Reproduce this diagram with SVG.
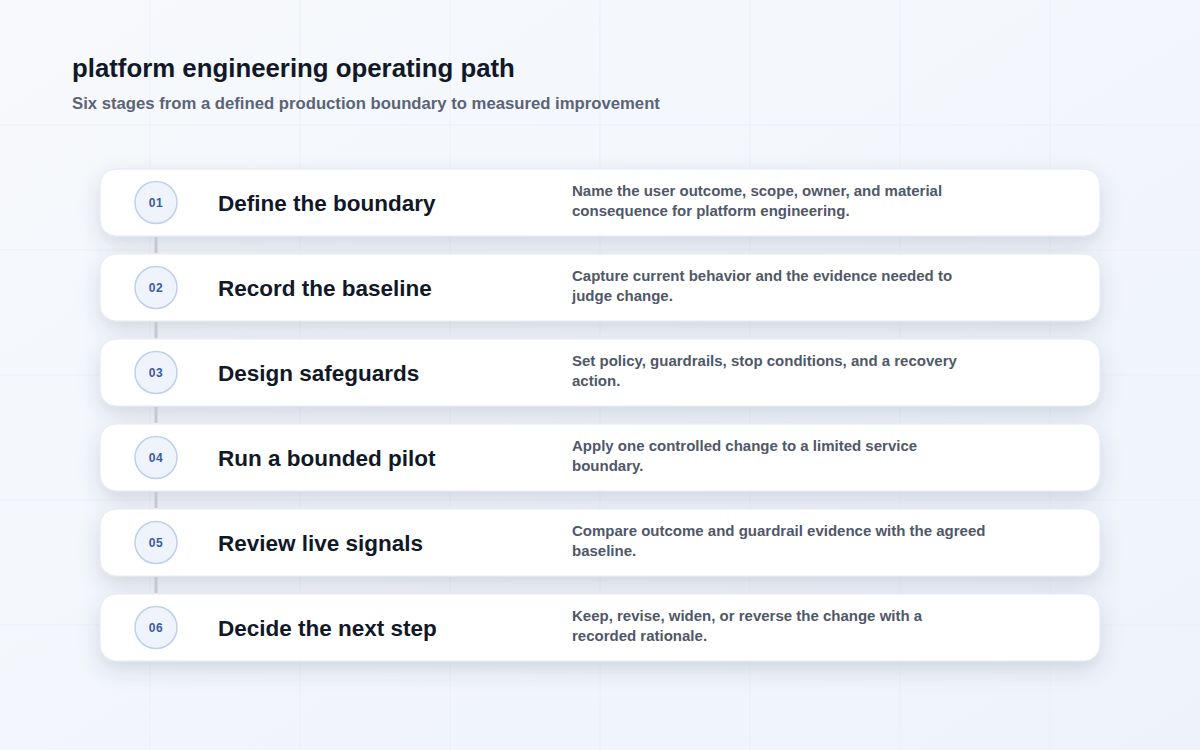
<svg xmlns="http://www.w3.org/2000/svg" width="1200" height="750" viewBox="0 0 1200 750">
<defs>
<linearGradient id="bg" x1="0" y1="0" x2="1" y2="1">
<stop offset="0" stop-color="#f7f9fc"/>
<stop offset="1" stop-color="#eef3fb"/>
</linearGradient>
<filter id="sh" x="-10%" y="-40%" width="120%" height="200%">
<feGaussianBlur in="SourceAlpha" stdDeviation="10"/>
<feOffset dy="8" result="b"/>
<feFlood flood-color="#3b4a6b" flood-opacity="0.18"/>
<feComposite in2="b" operator="in"/>
<feMerge><feMergeNode/><feMergeNode in="SourceGraphic"/></feMerge>
</filter>
<style>
.grid{stroke:#ebeff6;stroke-width:1;fill:none}
.card{fill:#ffffff;stroke:#e3e8f0;stroke-width:1}
.badge{fill:#eef3fc;stroke:#bfd0ec;stroke-width:1.5}
.num{font-family:"Liberation Sans",Arial,sans-serif;font-size:12px;font-weight:700;fill:#3a5aa6;text-anchor:middle;letter-spacing:0.5px}
.ttl{font-family:"Liberation Sans",Arial,sans-serif;font-size:22.5px;font-weight:700;fill:#111827}
.desc{font-family:"Liberation Sans",Arial,sans-serif;font-size:15px;font-weight:700;fill:#4f5868}
.link{stroke:#c3c8d1;stroke-width:3}
</style>
</defs>
<rect width="1200" height="750" fill="url(#bg)"/>
<g class="grid">
<path d="M150 0V750M300 0V750M450 0V750M600 0V750M750 0V750M900 0V750M1050 0V750M0 125H1200M0 250H1200M0 375H1200M0 500H1200M0 625H1200"/>
</g>
<text x="72" y="77" font-family="Liberation Sans, Arial, sans-serif" font-size="25.8" font-weight="700" fill="#111827">platform engineering operating path</text>
<text x="72" y="109" font-family="Liberation Sans, Arial, sans-serif" font-size="16.7" font-weight="700" fill="#5b6477">Six stages from a defined production boundary to measured improvement</text>

<g id="cards-shadow" filter="url(#sh)">
<g id="node-01"><rect class="card" x="100" y="169" width="1000" height="67" rx="16"/></g>
<g id="node-02"><rect class="card" x="100" y="254" width="1000" height="67" rx="16"/></g>
<g id="node-03"><rect class="card" x="100" y="339" width="1000" height="67" rx="16"/></g>
<g id="node-04"><rect class="card" x="100" y="424" width="1000" height="67" rx="16"/></g>
<g id="node-05"><rect class="card" x="100" y="509" width="1000" height="67" rx="16"/></g>
<g id="node-06"><rect class="card" x="100" y="594" width="1000" height="67" rx="16"/></g>
</g>

<g id="connectors">
<line class="link" x1="156" y1="237" x2="156" y2="253"/>
<line class="link" x1="156" y1="322" x2="156" y2="338"/>
<line class="link" x1="156" y1="407" x2="156" y2="423"/>
<line class="link" x1="156" y1="492" x2="156" y2="508"/>
<line class="link" x1="156" y1="577" x2="156" y2="593"/>
</g>

<g id="stage-01">
<circle class="badge" cx="156" cy="202.5" r="21"/>
<text class="num" x="156" y="207">01</text>
<text class="ttl" x="218" y="211">Define the boundary</text>
<text class="desc" x="572" y="196">Name the user outcome, scope, owner, and material</text>
<text class="desc" x="572" y="216">consequence for platform engineering.</text>
</g>
<g id="stage-02">
<circle class="badge" cx="156" cy="287.5" r="21"/>
<text class="num" x="156" y="292">02</text>
<text class="ttl" x="218" y="296">Record the baseline</text>
<text class="desc" x="572" y="281">Capture current behavior and the evidence needed to</text>
<text class="desc" x="572" y="301">judge change.</text>
</g>
<g id="stage-03">
<circle class="badge" cx="156" cy="372.5" r="21"/>
<text class="num" x="156" y="377">03</text>
<text class="ttl" x="218" y="381">Design safeguards</text>
<text class="desc" x="572" y="366">Set policy, guardrails, stop conditions, and a recovery</text>
<text class="desc" x="572" y="386">action.</text>
</g>
<g id="stage-04">
<circle class="badge" cx="156" cy="457.5" r="21"/>
<text class="num" x="156" y="462">04</text>
<text class="ttl" x="218" y="466">Run a bounded pilot</text>
<text class="desc" x="572" y="451">Apply one controlled change to a limited service</text>
<text class="desc" x="572" y="471">boundary.</text>
</g>
<g id="stage-05">
<circle class="badge" cx="156" cy="542.5" r="21"/>
<text class="num" x="156" y="547">05</text>
<text class="ttl" x="218" y="551">Review live signals</text>
<text class="desc" x="572" y="536">Compare outcome and guardrail evidence with the agreed</text>
<text class="desc" x="572" y="556">baseline.</text>
</g>
<g id="stage-06">
<circle class="badge" cx="156" cy="627.5" r="21"/>
<text class="num" x="156" y="632">06</text>
<text class="ttl" x="218" y="636">Decide the next step</text>
<text class="desc" x="572" y="621">Keep, revise, widen, or reverse the change with a</text>
<text class="desc" x="572" y="641">recorded rationale.</text>
</g>
</svg>
